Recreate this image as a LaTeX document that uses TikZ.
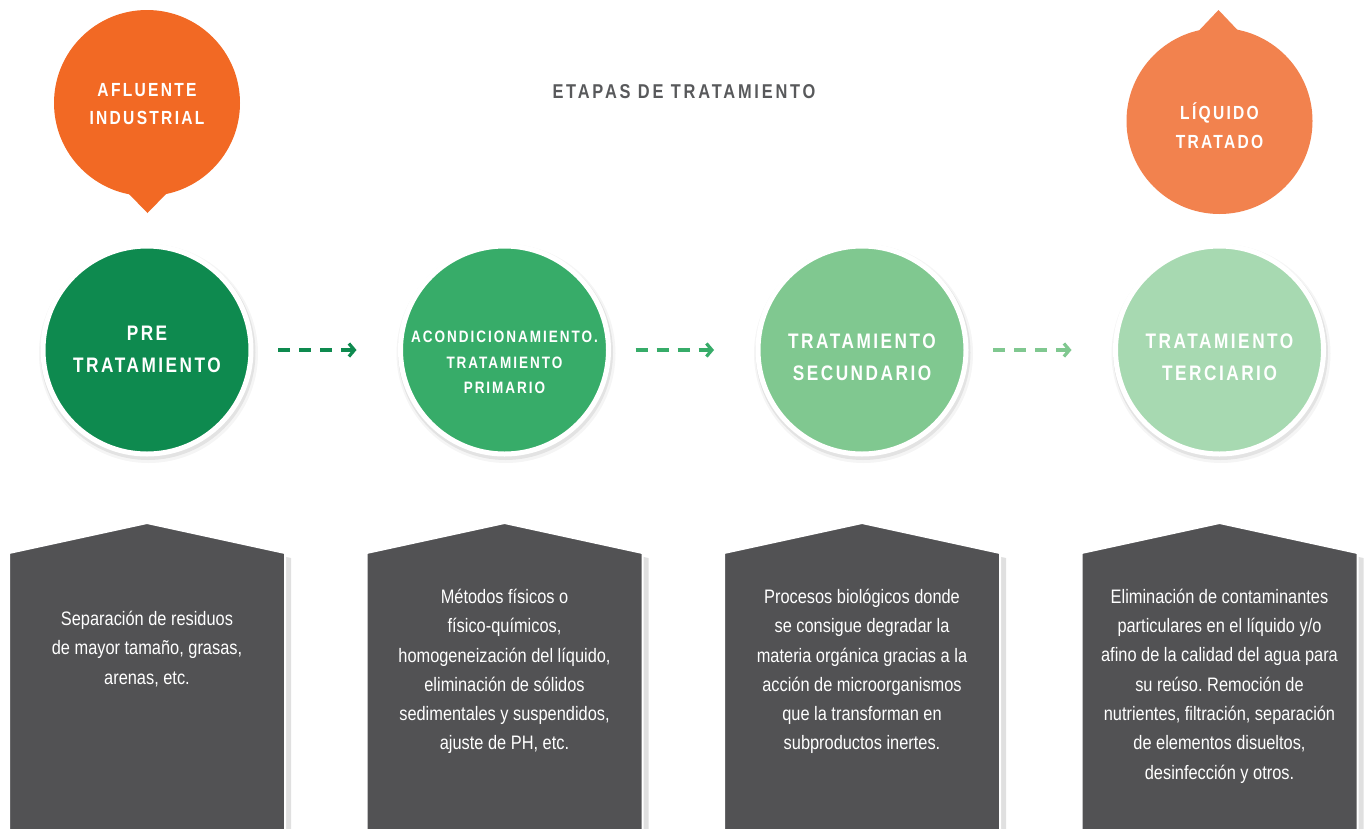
\documentclass[tikz,border=0pt]{standalone}
\usepackage{fontspec}
\setmainfont{Liberation Sans}[FakeStretch=0.84]
\newfontfamily\capsfont{Liberation Sans}[FakeStretch=0.82, LetterSpace=12]
\newfontfamily\titlefont{Liberation Sans}[FakeStretch=0.82, LetterSpace=14]
\usetikzlibrary{arrows.meta}
\frenchspacing

\definecolor{stageA}{HTML}{0E8A4F}
\definecolor{stageB}{HTML}{37AC69}
\definecolor{stageC}{HTML}{80C890}
\definecolor{stageD}{HTML}{A7D9B1}
\definecolor{inflow}{HTML}{F26924}
\definecolor{outflow}{HTML}{F2824E}
\definecolor{panel}{HTML}{525254}
\definecolor{heading}{HTML}{58595B}

\tikzset{
  stagedisc/.style={circle, minimum size=208pt, inner sep=0pt, draw=white, line width=5pt},
  bubble/.style={circle, minimum size=186pt, inner sep=0pt},
  caps/.style={text=white, align=center, font=\capsfont\bfseries\fontsize{21}{32}\selectfont},
  smallcaps/.style={text=white, align=center, font=\capsfont\bfseries\fontsize{16.5}{25.5}\selectfont},
  bubbletext/.style={text=white, align=center, font=\capsfont\bfseries\fontsize{19}{28.5}\selectfont},
  bodytext/.style={text=white, align=center, font=\fontsize{19.5}{29.3}\selectfont},
  flow/.style={line width=4pt, dash pattern=on 12pt off 9pt,
    -{Straight Barb[length=5.5pt,width=13pt,line width=3.2pt]},
    shorten <=24.5pt, shorten >=41.5pt},
  softshadow/.style={fill=black, opacity=#1},
  panelshape/.style={fill=panel, draw=white, line width=2pt},
}

\begin{document}
\begin{tikzpicture}[x=1pt,y=-1pt]
\clip (0,0) rectangle (1365,828);
\fill[white] (0,0) rectangle (1365,828);

% heading
\node[text=heading, font=\titlefont\bfseries\fontsize{20}{22}\selectfont] (title) at (684,92) {ETAPAS DE TRATAMIENTO};

% incoming and outgoing bubbles
\node[bubble, fill=inflow] (inbubble) at (147,103) {};
\fill[inflow] (128,193) -- (147.5,213) -- (167,193) -- cycle;
\node[bubbletext] (intext) at (147,104) {AFLUENTE\\INDUSTRIAL};

\node[bubble, fill=outflow] (outbubble) at (1219.5,121) {};
\fill[outflow] (1199.5,30) -- (1218.5,10) -- (1237.5,30) -- cycle;
\node[bubbletext] (outtext) at (1219.5,125.5) {LÍQUIDO\\TRATADO};

% soft shadows under the stage discs
\foreach \cx in {147,504.5,862,1219.5}{
  \fill[softshadow=0.04] (\cx+1.5,353.5) circle (109.5);
  \fill[softshadow=0.07] (\cx+1,352.5) circle (107.5);
}

% stage discs
\node[stagedisc, fill=stageA] (s1) at (147,350) {};
\node[stagedisc, fill=stageB] (s2) at (504.5,350) {};
\node[stagedisc, fill=stageC] (s3) at (862,350) {};
\node[stagedisc, fill=stageD] (s4) at (1219.5,350) {};

\node[caps] (s1text) at (147,349) {PRE\\TRATAMIENTO};
\node[smallcaps] (s2text) at (504.5,362.5) {ACONDICIONAMIENTO.\\TRATAMIENTO\\PRIMARIO};
\node[caps] (s3text) at (862,357) {TRATAMIENTO\\SECUNDARIO};
\node[caps] (s4text) at (1219.5,357) {TRATAMIENTO\\TERCIARIO};

% connectors between stages
\draw[flow, stageA] (s1) -- (s2);
\draw[flow, stageB] (s2) -- (s3);
\draw[flow, stageC] (s3) -- (s4);

% description panels
\foreach \cx in {147,504.5,862,1219.5}{
  \fill[black, opacity=0.12] (\cx-134,558) -- (\cx+4,528) -- (\cx+144,558) -- (\cx+144,840) -- (\cx-134,840) -- cycle;
  \filldraw[panelshape] (\cx-138,553) -- (\cx,523) -- (\cx+138,553) -- (\cx+138,840) -- (\cx-138,840) -- cycle;
}

\node[bodytext] (d1) at (147,649) {Separación de residuos\\de mayor tamaño, grasas,\\arenas, etc.};
\node[bodytext] (d2) at (504.5,671.5) {Métodos físicos o\\físico-químicos,\\homogeneización del líquido,\\eliminación de sólidos\\sedimentales y suspendidos,\\ajuste de PH, etc.};
\node[bodytext] (d3) at (862,671.5) {Procesos biológicos donde\\se consigue degradar la\\materia orgánica gracias a la\\acción de microorganismos\\que la transforman en\\subproductos inertes.};
\node[bodytext] (d4) at (1219.5,686) {Eliminación de contaminantes\\particulares en el líquido y/o\\afino de la calidad del agua para\\su reúso. Remoción de\\nutrientes, filtración, separación\\de elementos disueltos,\\desinfección y otros.};
\end{tikzpicture}
\end{document}
